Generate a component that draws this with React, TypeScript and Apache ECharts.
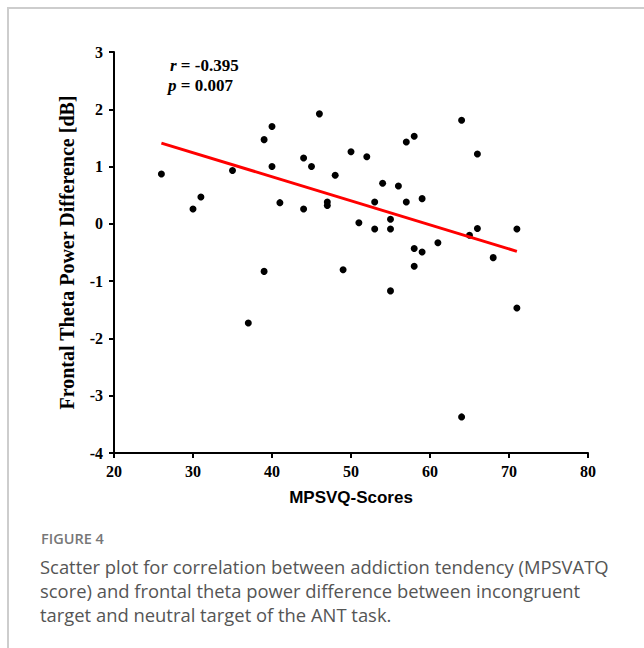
import React, { useEffect, useRef } from "react";
import * as echarts from "echarts";

const scores = [26, 30, 31, 35, 39, 40, 40, 41, 44, 45, 44, 46, 48, 47, 47, 50, 52, 51, 53, 53, 54, 55, 55, 56, 57, 58, 57, 59, 58, 59, 61, 64, 66, 66, 65, 68, 71, 39, 37, 49, 58, 55, 71, 64];
const thetaDiff = [0.87, 0.26, 0.47, 0.93, 1.47, 1.7, 1.0, 0.37, 1.15, 1.0, 0.26, 1.92, 0.85, 0.38, 0.32, 1.26, 1.17, 0.02, 0.38, -0.09, 0.71, 0.08, -0.09, 0.66, 1.43, 1.53, 0.38, 0.44, -0.43, -0.49, -0.33, 1.81, 1.22, -0.08, -0.2, -0.59, -0.09, -0.83, -1.73, -0.8, -0.74, -1.17, -1.47, -3.37];
const fitX = [26, 71];
const fitY = [1.41, -0.48];
const xTitle = "MPSVQ-Scores";
const yTitle = "Frontal Theta Power Difference [dB]";
const statR = "-0.395";
const statP = "0.007";
const figLabel = "FIGURE 4";
const captionLines = [
  "Scatter plot for correlation between addiction tendency (MPSVATQ",
  "score) and frontal theta power difference between incongruent",
  "target and neutral target of the ANT task.",
];

const serif = '"Liberation Serif", "Times New Roman", serif';

export default function App() {
  const ref = useRef<HTMLDivElement>(null);
  useEffect(() => {
    if (!ref.current) return;
    const chart = echarts.init(ref.current, null, { renderer: "svg" });
    const pts = scores.map((x, i) => [x, thetaDiff[i]]);
    const fit = fitX.map((x, i) => [x, fitY[i]]);
    const axisLineStyle = { color: "#000", width: 2 };
    const richI = { i: { fontStyle: "italic", fontWeight: "bold", fontFamily: "Liberation Serif", fontSize: 17, fill: "#000" } };
    chart.setOption({
      animation: false,
      grid: { left: 114, right: 56, top: 52, bottom: 195 },
      xAxis: {
        type: "value",
        min: 20,
        max: 80,
        interval: 10,
        name: xTitle,
        nameLocation: "middle",
        nameGap: 36,
        nameTextStyle: { fontFamily: '"Liberation Sans", Arial, sans-serif', fontWeight: "bold", fontSize: 17, color: "#000" },
        axisLine: { show: true, onZero: false, lineStyle: axisLineStyle },
        axisTick: { show: true, inside: false, length: 5, lineStyle: axisLineStyle },
        axisLabel: { fontFamily: serif, fontWeight: "bold", fontSize: 16, color: "#000", margin: 10 },
        splitLine: { show: false },
      },
      yAxis: {
        type: "value",
        min: -4,
        max: 3,
        interval: 1,
        name: yTitle,
        nameLocation: "middle",
        nameGap: 37,
        nameRotate: 90,
        nameTextStyle: { fontFamily: serif, fontWeight: "bold", fontSize: 20, color: "#000" },
        axisLine: { show: true, onZero: false, lineStyle: axisLineStyle },
        axisTick: { show: true, inside: false, length: 5, lineStyle: axisLineStyle },
        axisLabel: { fontFamily: serif, fontWeight: "bold", fontSize: 16, color: "#000", margin: 11 },
        splitLine: { show: false },
      },
      series: [
        {
          type: "scatter",
          data: pts,
          symbol: "circle",
          symbolSize: 7,
          itemStyle: { color: "#000", opacity: 1 },
          z: 2,
        },
        {
          type: "line",
          data: fit,
          symbol: "none",
          lineStyle: { color: "#ff0000", width: 3 },
          z: 3,
        },
      ],
      graphic: [
        {
          type: "text",
          left: 170,
          top: 57,
          style: {
            text: "{i|r} = " + statR,
            font: 'bold 17px "Liberation Serif"',
            fill: "#000",
            rich: richI,
          },
        },
        {
          type: "text",
          left: 168,
          top: 77,
          style: {
            text: "{i|p} = " + statP,
            font: 'bold 17px "Liberation Serif"',
            fill: "#000",
            rich: richI,
          },
        },
        {
          type: "text",
          left: 41,
          top: 531,
          style: { text: figLabel, font: '600 14.5px "Open Sans"', fill: "#777" },
        },
        {
          type: "text",
          left: 40,
          top: 554,
          style: { text: captionLines.join("\n"), font: '18.4px "Open Sans"', lineHeight: 24, fill: "#555" },
        },
      ],
    });
    return () => chart.dispose();
  }, []);
  return (
    <div style={{ position: "absolute", left: 0, top: 0, width: 644, height: 648, overflow: "hidden", background: "#fff" }}>
      <div style={{ position: "absolute", left: 7, top: 7, width: 700, height: 700, border: "2px solid #cdcdcd" }} />
      <div ref={ref} style={{ position: "absolute", left: 0, top: 0, width: 644, height: 648 }} />
    </div>
  );
}
